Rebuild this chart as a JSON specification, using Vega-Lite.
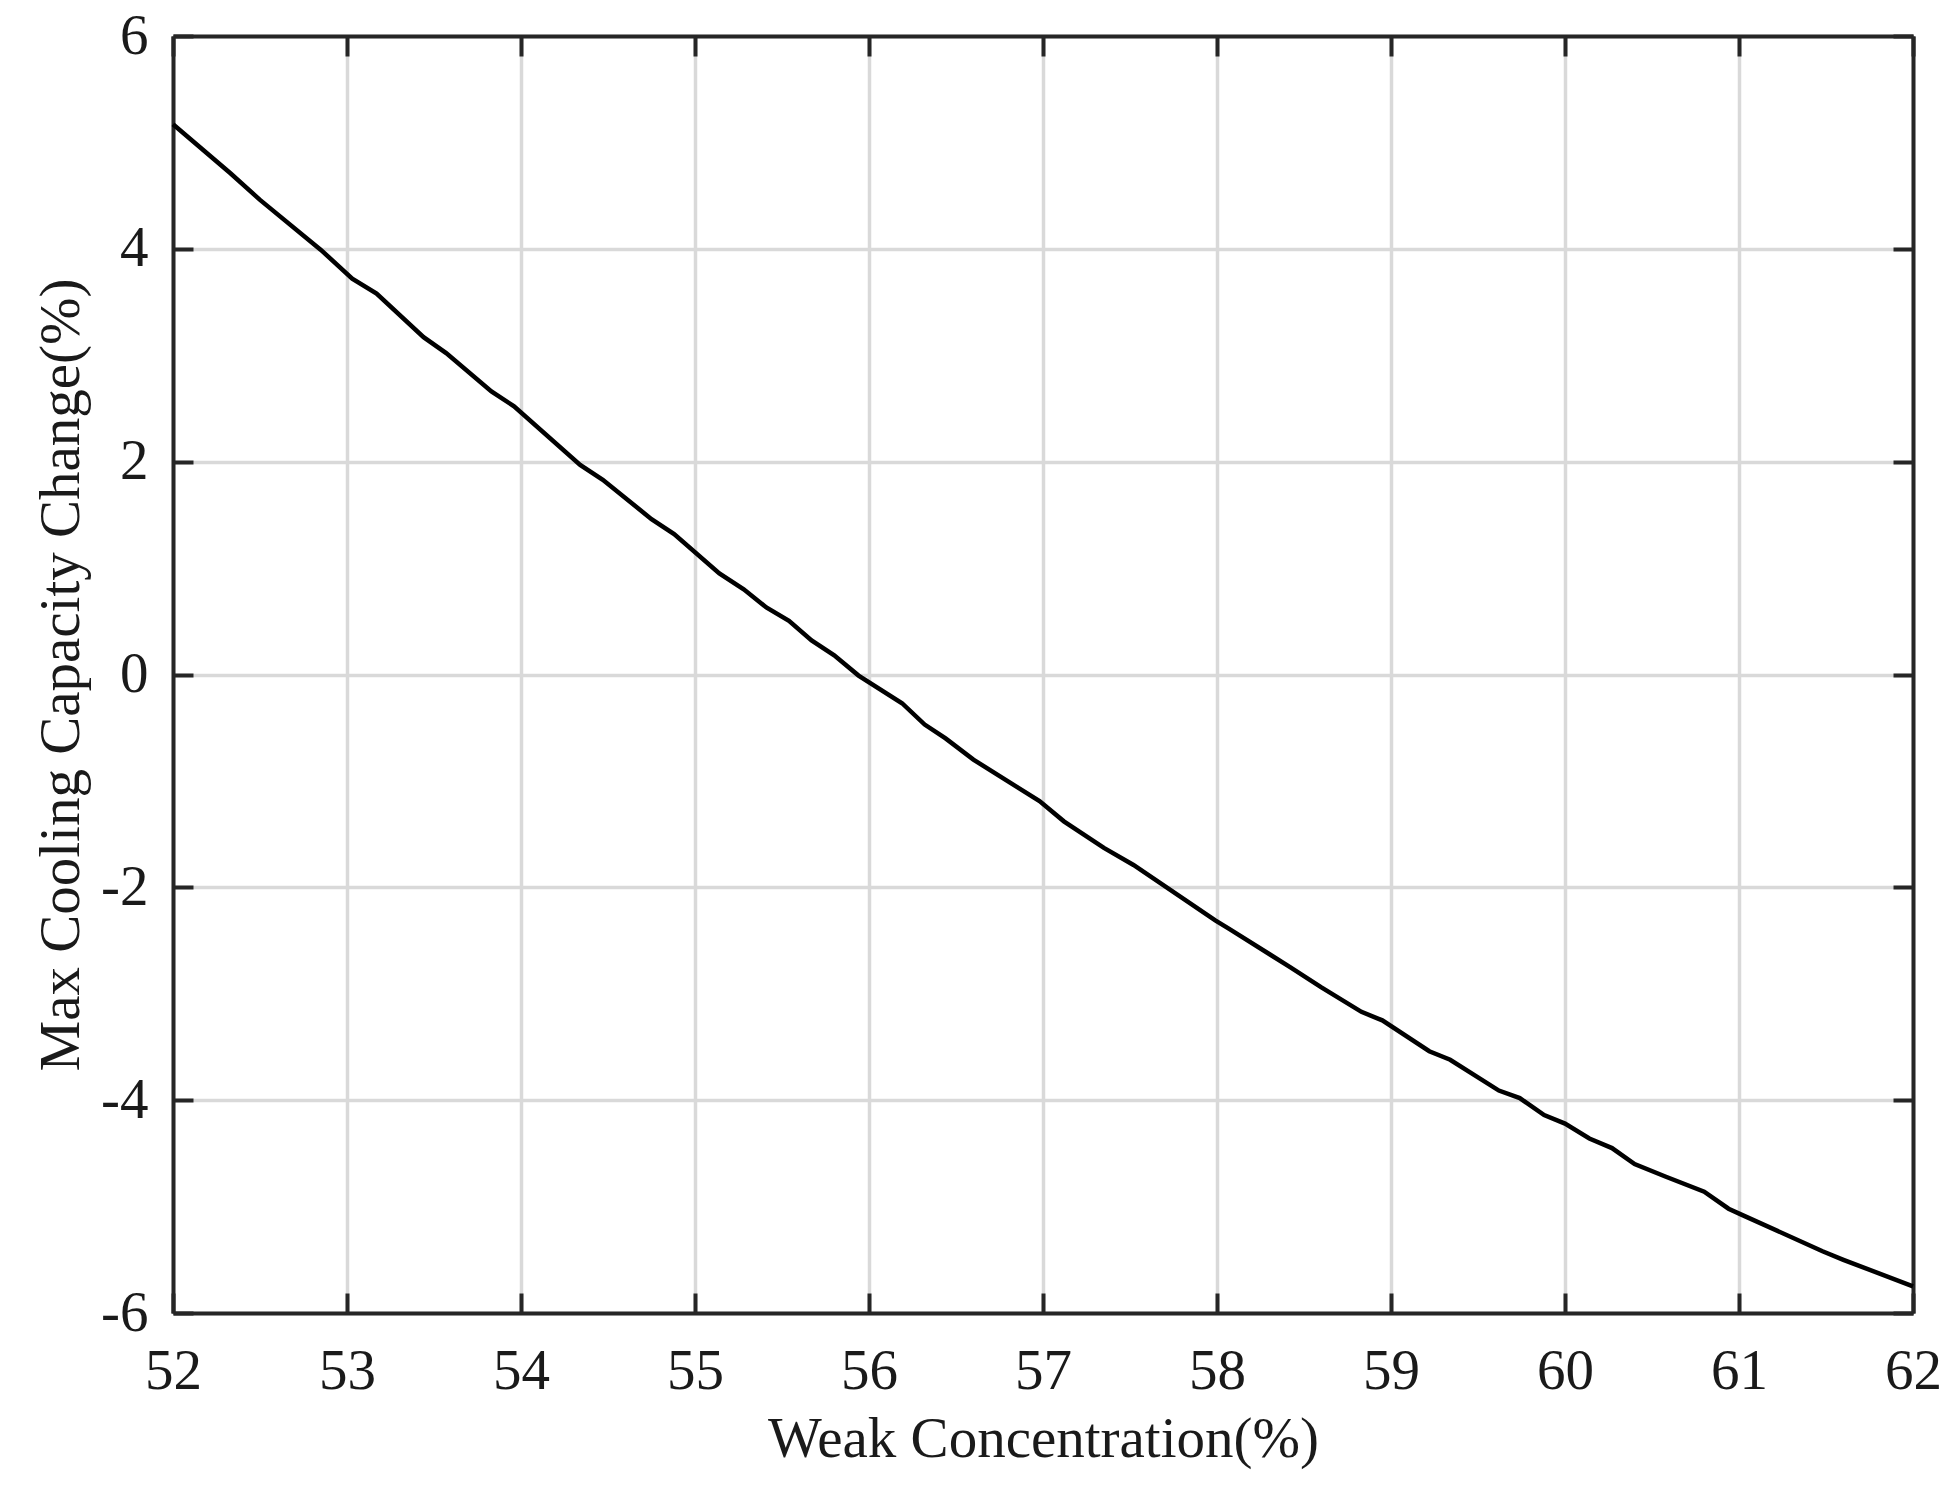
{
  "$schema": "https://vega.github.io/schema/vega-lite/v6.json",
  "autosize": "none",
  "width": 1740,
  "height": 1277,
  "padding": {"left": 173, "top": 36, "right": 43, "bottom": 178},
  "background": "white",
  "config": {
    "view": {"stroke": null},
    "font": "Liberation Serif",
    "axis": {
      "labelFont": "Liberation Serif",
      "titleFont": "Liberation Serif",
      "labelFontSize": 57,
      "titleFontSize": 57,
      "labelColor": "#1a1a1a",
      "titleColor": "#1a1a1a",
      "titleFontWeight": "normal",
      "domainColor": "#262626",
      "domainWidth": 4,
      "tickColor": "#262626",
      "tickWidth": 4,
      "tickSize": -20,
      "gridColor": "#d9d9d9",
      "gridWidth": 3.5,
      "gridOpacity": 1
    }
  },
  "data": {
    "values": [
      {"c": 52.0, "v": 5.17},
      {"c": 52.33, "v": 4.71},
      {"c": 52.5, "v": 4.46},
      {"c": 52.85, "v": 3.99},
      {"c": 53.03, "v": 3.72},
      {"c": 53.17, "v": 3.58},
      {"c": 53.44, "v": 3.17},
      {"c": 53.57, "v": 3.02},
      {"c": 53.83, "v": 2.66},
      {"c": 53.96, "v": 2.52},
      {"c": 54.34, "v": 1.97},
      {"c": 54.47, "v": 1.83},
      {"c": 54.75, "v": 1.46},
      {"c": 54.88, "v": 1.32},
      {"c": 55.14, "v": 0.95},
      {"c": 55.28, "v": 0.8},
      {"c": 55.41, "v": 0.63},
      {"c": 55.54, "v": 0.505},
      {"c": 55.67, "v": 0.32},
      {"c": 55.8, "v": 0.18},
      {"c": 55.94, "v": -0.01},
      {"c": 56.19, "v": -0.27},
      {"c": 56.32, "v": -0.47},
      {"c": 56.44, "v": -0.6},
      {"c": 56.6, "v": -0.8},
      {"c": 56.98, "v": -1.19},
      {"c": 57.12, "v": -1.38},
      {"c": 57.35, "v": -1.63},
      {"c": 57.52, "v": -1.79},
      {"c": 57.99, "v": -2.31},
      {"c": 58.07, "v": -2.39},
      {"c": 58.42, "v": -2.75},
      {"c": 58.6, "v": -2.94},
      {"c": 58.83, "v": -3.17},
      {"c": 58.95, "v": -3.25},
      {"c": 59.22, "v": -3.54},
      {"c": 59.34, "v": -3.62},
      {"c": 59.62, "v": -3.91},
      {"c": 59.74, "v": -3.98},
      {"c": 59.88, "v": -4.14},
      {"c": 60.0, "v": -4.22},
      {"c": 60.14, "v": -4.36},
      {"c": 60.27, "v": -4.45},
      {"c": 60.4, "v": -4.6},
      {"c": 60.58, "v": -4.72},
      {"c": 60.8, "v": -4.86},
      {"c": 60.94, "v": -5.02},
      {"c": 61.02, "v": -5.08},
      {"c": 61.48, "v": -5.42},
      {"c": 61.6, "v": -5.5},
      {"c": 62.0, "v": -5.75}
    ]
  },
  "layer": [
    {
      "mark": {"type": "line", "color": "white", "strokeOpacity": 0},
      "encoding": {
        "x": {
          "field": "c", "type": "quantitative",
          "scale": {"domain": [52, 62], "nice": false, "zero": false},
          "axis": {"orient": "top", "labels": false, "title": null, "grid": false, "values": [52,53,54,55,56,57,58,59,60,61,62]}
        },
        "y": {
          "field": "v", "type": "quantitative",
          "scale": {"domain": [-6, 6], "nice": false, "zero": false},
          "axis": {"orient": "right", "labels": false, "title": null, "grid": false, "values": [-6,-4,-2,0,2,4,6]}
        }
      }
    },
    {
      "mark": {"type": "line", "color": "#000000", "strokeWidth": 4.5, "interpolate": "linear"},
      "encoding": {
        "x": {
          "field": "c", "type": "quantitative",
          "scale": {"domain": [52, 62], "nice": false, "zero": false},
          "axis": {"orient": "bottom", "title": "Weak Concentration(%)", "grid": true, "values": [52,53,54,55,56,57,58,59,60,61,62], "labelPadding": 50, "titlePadding": 12, "labelFlush": false}
        },
        "y": {
          "field": "v", "type": "quantitative",
          "scale": {"domain": [-6, 6], "nice": false, "zero": false},
          "axis": {"orient": "left", "title": "Max Cooling Capacity Change(%)", "grid": true, "values": [-6,-4,-2,0,2,4,6], "labelExpr": "'' + datum.value", "labelPadding": 45, "titlePadding": 10, "labelFlush": false}
        }
      }
    }
  ],
  "resolve": {"axis": {"x": "independent", "y": "independent"}}
}
